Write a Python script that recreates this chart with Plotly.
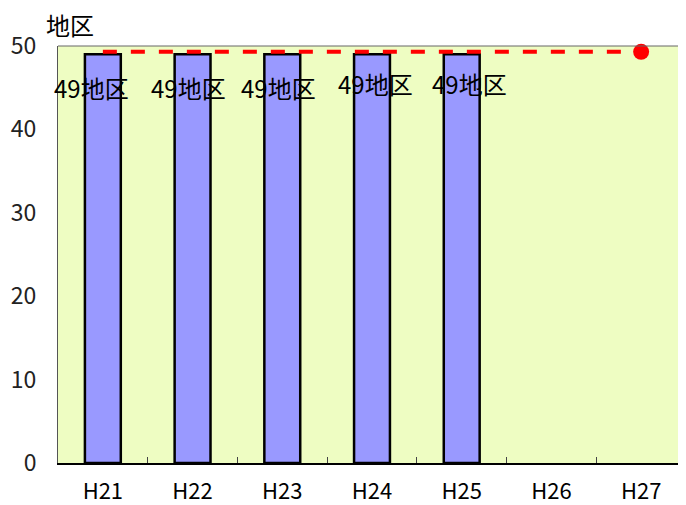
import plotly.graph_objects as go

categories = ["H21", "H22", "H23", "H24", "H25", "H26", "H27"]
bar_cats = ["H21", "H22", "H23", "H24", "H25"]
bar_values = [49, 49, 49, 49, 49]
bar_labels = ["49地区", "49地区", "49地区", "49地区", "49地区"]
target_cats = ["H21", "H27"]
target_values = [49.3, 49.3]
y_ticks = [0, 10, 20, 30, 40, 50]

# label placement (styling, not data)
label_y = [45.05, 45.05, 45.05, 45.5, 45.5]
label_dx = [-11, -4, -4, 3, 8]

FONT = "Noto Sans CJK JP"

fig = go.Figure()
fig.add_trace(go.Bar(
    x=bar_cats, y=bar_values, width=0.4,
    marker=dict(color="#9999FF", line=dict(color="black", width=2.5)),
    hoverinfo="skip", showlegend=False,
))
fig.add_trace(go.Scatter(
    x=target_cats, y=target_values, mode="lines",
    line=dict(color="#FF0000", width=4, dash="14px,14px"),
    showlegend=False, hoverinfo="skip",
))
fig.add_trace(go.Scatter(
    x=[target_cats[-1]], y=[target_values[-1]], mode="markers",
    marker=dict(color="#FF0000", size=16),
    showlegend=False, hoverinfo="skip", cliponaxis=False,
))
for c, t, ly, dx in zip(bar_cats, bar_labels, label_y, label_dx):
    fig.add_annotation(x=c, y=ly, text=t, showarrow=False, xshift=dx,
                       font=dict(family=FONT, size=24, color="black"))

fig.add_annotation(xref="paper", yref="paper", x=-0.022, y=1.0, yshift=22,
                   xanchor="left", yanchor="middle", text="地区", showarrow=False,
                   font=dict(family=FONT, size=24, color="black"))

fig.update_layout(
    width=678, height=497,
    margin=dict(l=50, r=0, t=38, b=42, autoexpand=False),
    paper_bgcolor="white", plot_bgcolor="#EEFDC2",
    font=dict(family=FONT, size=22, color="black"),
)
fig.update_xaxes(
    type="category", categoryorder="array", categoryarray=categories,
    range=[-0.5, 6.5], showline=True, linecolor="black", linewidth=2,
    ticks="inside", ticklen=6, tickcolor="#444", tickson="boundaries",
    showgrid=False, tickfont=dict(family=FONT, size=22), automargin=False,
    ticklabelstandoff=8,
)
fig.update_yaxes(
    range=[0, 50], tickvals=y_ticks, showgrid=False, zeroline=False,
    showline=True, linecolor="#555", linewidth=1, ticks="",
    tickfont=dict(family=FONT, size=23, color="#222"), automargin=False,
    ticklabelstandoff=16,
)
fig.add_shape(type="line", xref="paper", yref="paper", x0=0, x1=1, y0=1, y1=1,
              line=dict(color="#666", width=1))

fig.write_html("out.html")
